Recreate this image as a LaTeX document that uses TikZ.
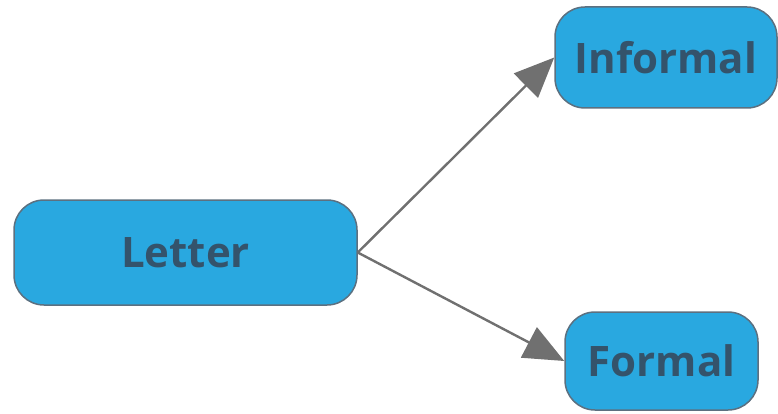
\documentclass[tikz,border=0pt]{standalone}
\usepackage{fontspec}
\setmainfont{Open Sans}
\usetikzlibrary{arrows.meta}
\definecolor{boxfill}{HTML}{29A8E0}
\definecolor{boxline}{HTML}{5C7080}
\definecolor{boxtext}{HTML}{34536B}
\definecolor{arrowgray}{HTML}{707070}
\begin{document}
\begin{tikzpicture}[x=1pt, y=-1pt,
  main/.style = {draw=boxline, line width=1.5pt, fill=boxfill, rounded corners=30pt,
    text=boxtext, font=\fontsize{42}{50}\selectfont\bfseries, inner sep=0pt},
  link/.style = {draw=arrowgray, line width=2.4pt, -{Triangle[length=40pt, width=34pt]}}]
\useasboundingbox (0,0) rectangle (778,414);
\node[main, minimum width=343pt, minimum height=105pt] (1) at (185.5,252.5) {Letter};
\node[main, minimum width=222pt, minimum height=101pt] (2) at (666,57.5) {Informal};
\node[main, minimum width=193pt, minimum height=98pt] (3) at (661.5,361) {Formal};

\draw[link] (1.east) -- (2.west);
\draw[link] (1.east) -- (3.west);
\end{tikzpicture}
\end{document}
